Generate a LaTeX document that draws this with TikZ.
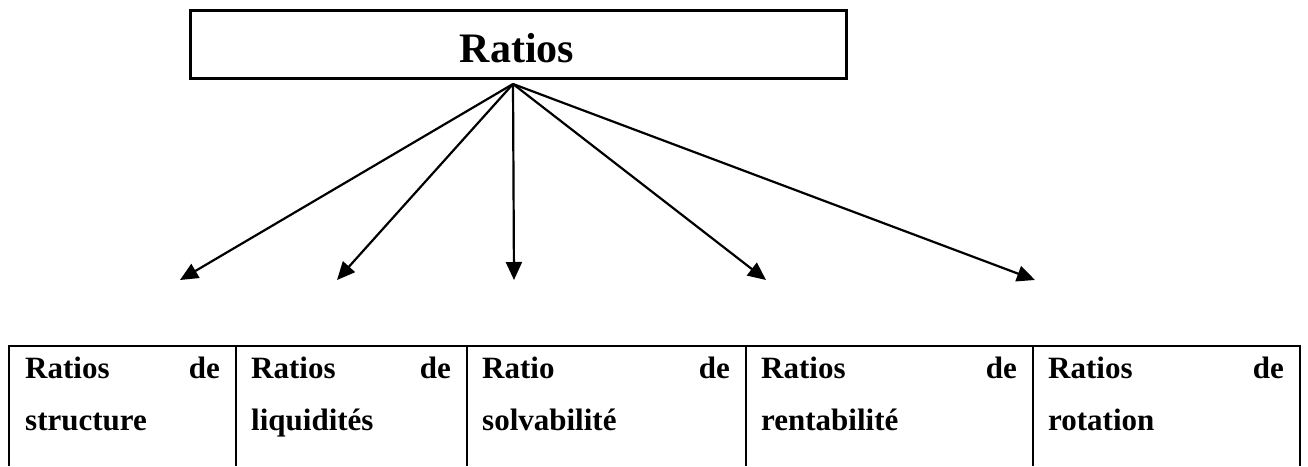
\documentclass[tikz,border=0pt]{standalone}
\usepackage{fontspec}
\setmainfont{Liberation Serif}
\usetikzlibrary{arrows.meta}
\begin{document}
\begin{tikzpicture}[x=1pt,y=-1pt,
  arr/.style={line width=2.2pt,-{Triangle[length=18pt,width=16pt]}},
  boxline/.style={line width=2.6pt},
  tabline/.style={line width=2.2pt},
  celltxt/.style={inner sep=0pt,font=\fontsize{31}{37}\selectfont\bfseries},
  titletxt/.style={inner sep=0pt,font=\fontsize{42}{50}\selectfont\bfseries}]
\useasboundingbox (0,0) rectangle (1308,466);
% top box
\node[draw,boxline,minimum width=656pt,minimum height=68pt,inner sep=0pt,anchor=north west] (top) at (189,9) {};
\node[titletxt,anchor=base] (title) at (517,62) {Ratios};
% arrows
\coordinate (apex) at (513,84);
\coordinate (t1) at (180,280);
\coordinate (t2) at (337,280);
\coordinate (t3) at (514,280);
\coordinate (t4) at (766,280);
\coordinate (t5) at (1035,280);
\foreach \t in {t1,t2,t3,t4,t5} \draw[arr] (apex) -- (\t);
% table
\draw[tabline] (9,466) -- (9,346) -- (1300,346) -- (1300,466);
\foreach \x in {236,467,746,1033} \draw[tabline] (\x,346) -- (\x,466);
% cells
\node[celltxt,anchor=base west] (c1a) at (25,378) {Ratios};
\node[celltxt,anchor=base east] (c1b) at (220,378) {de};
\node[celltxt,anchor=base west] (c1c) at (25,430) {structure};
\node[celltxt,anchor=base west] (c2a) at (251,378) {Ratios};
\node[celltxt,anchor=base east] (c2b) at (451,378) {de};
\node[celltxt,anchor=base west] (c2c) at (251,430) {liquidités};
\node[celltxt,anchor=base west] (c3a) at (482,378) {Ratio};
\node[celltxt,anchor=base east] (c3b) at (730,378) {de};
\node[celltxt,anchor=base west] (c3c) at (482,430) {solvabilité};
\node[celltxt,anchor=base west] (c4a) at (761,378) {Ratios};
\node[celltxt,anchor=base east] (c4b) at (1017,378) {de};
\node[celltxt,anchor=base west] (c4c) at (761,430) {rentabilité};
\node[celltxt,anchor=base west] (c5a) at (1048,378) {Ratios};
\node[celltxt,anchor=base east] (c5b) at (1284,378) {de};
\node[celltxt,anchor=base west] (c5c) at (1048,430) {rotation};
\end{tikzpicture}
\end{document}
